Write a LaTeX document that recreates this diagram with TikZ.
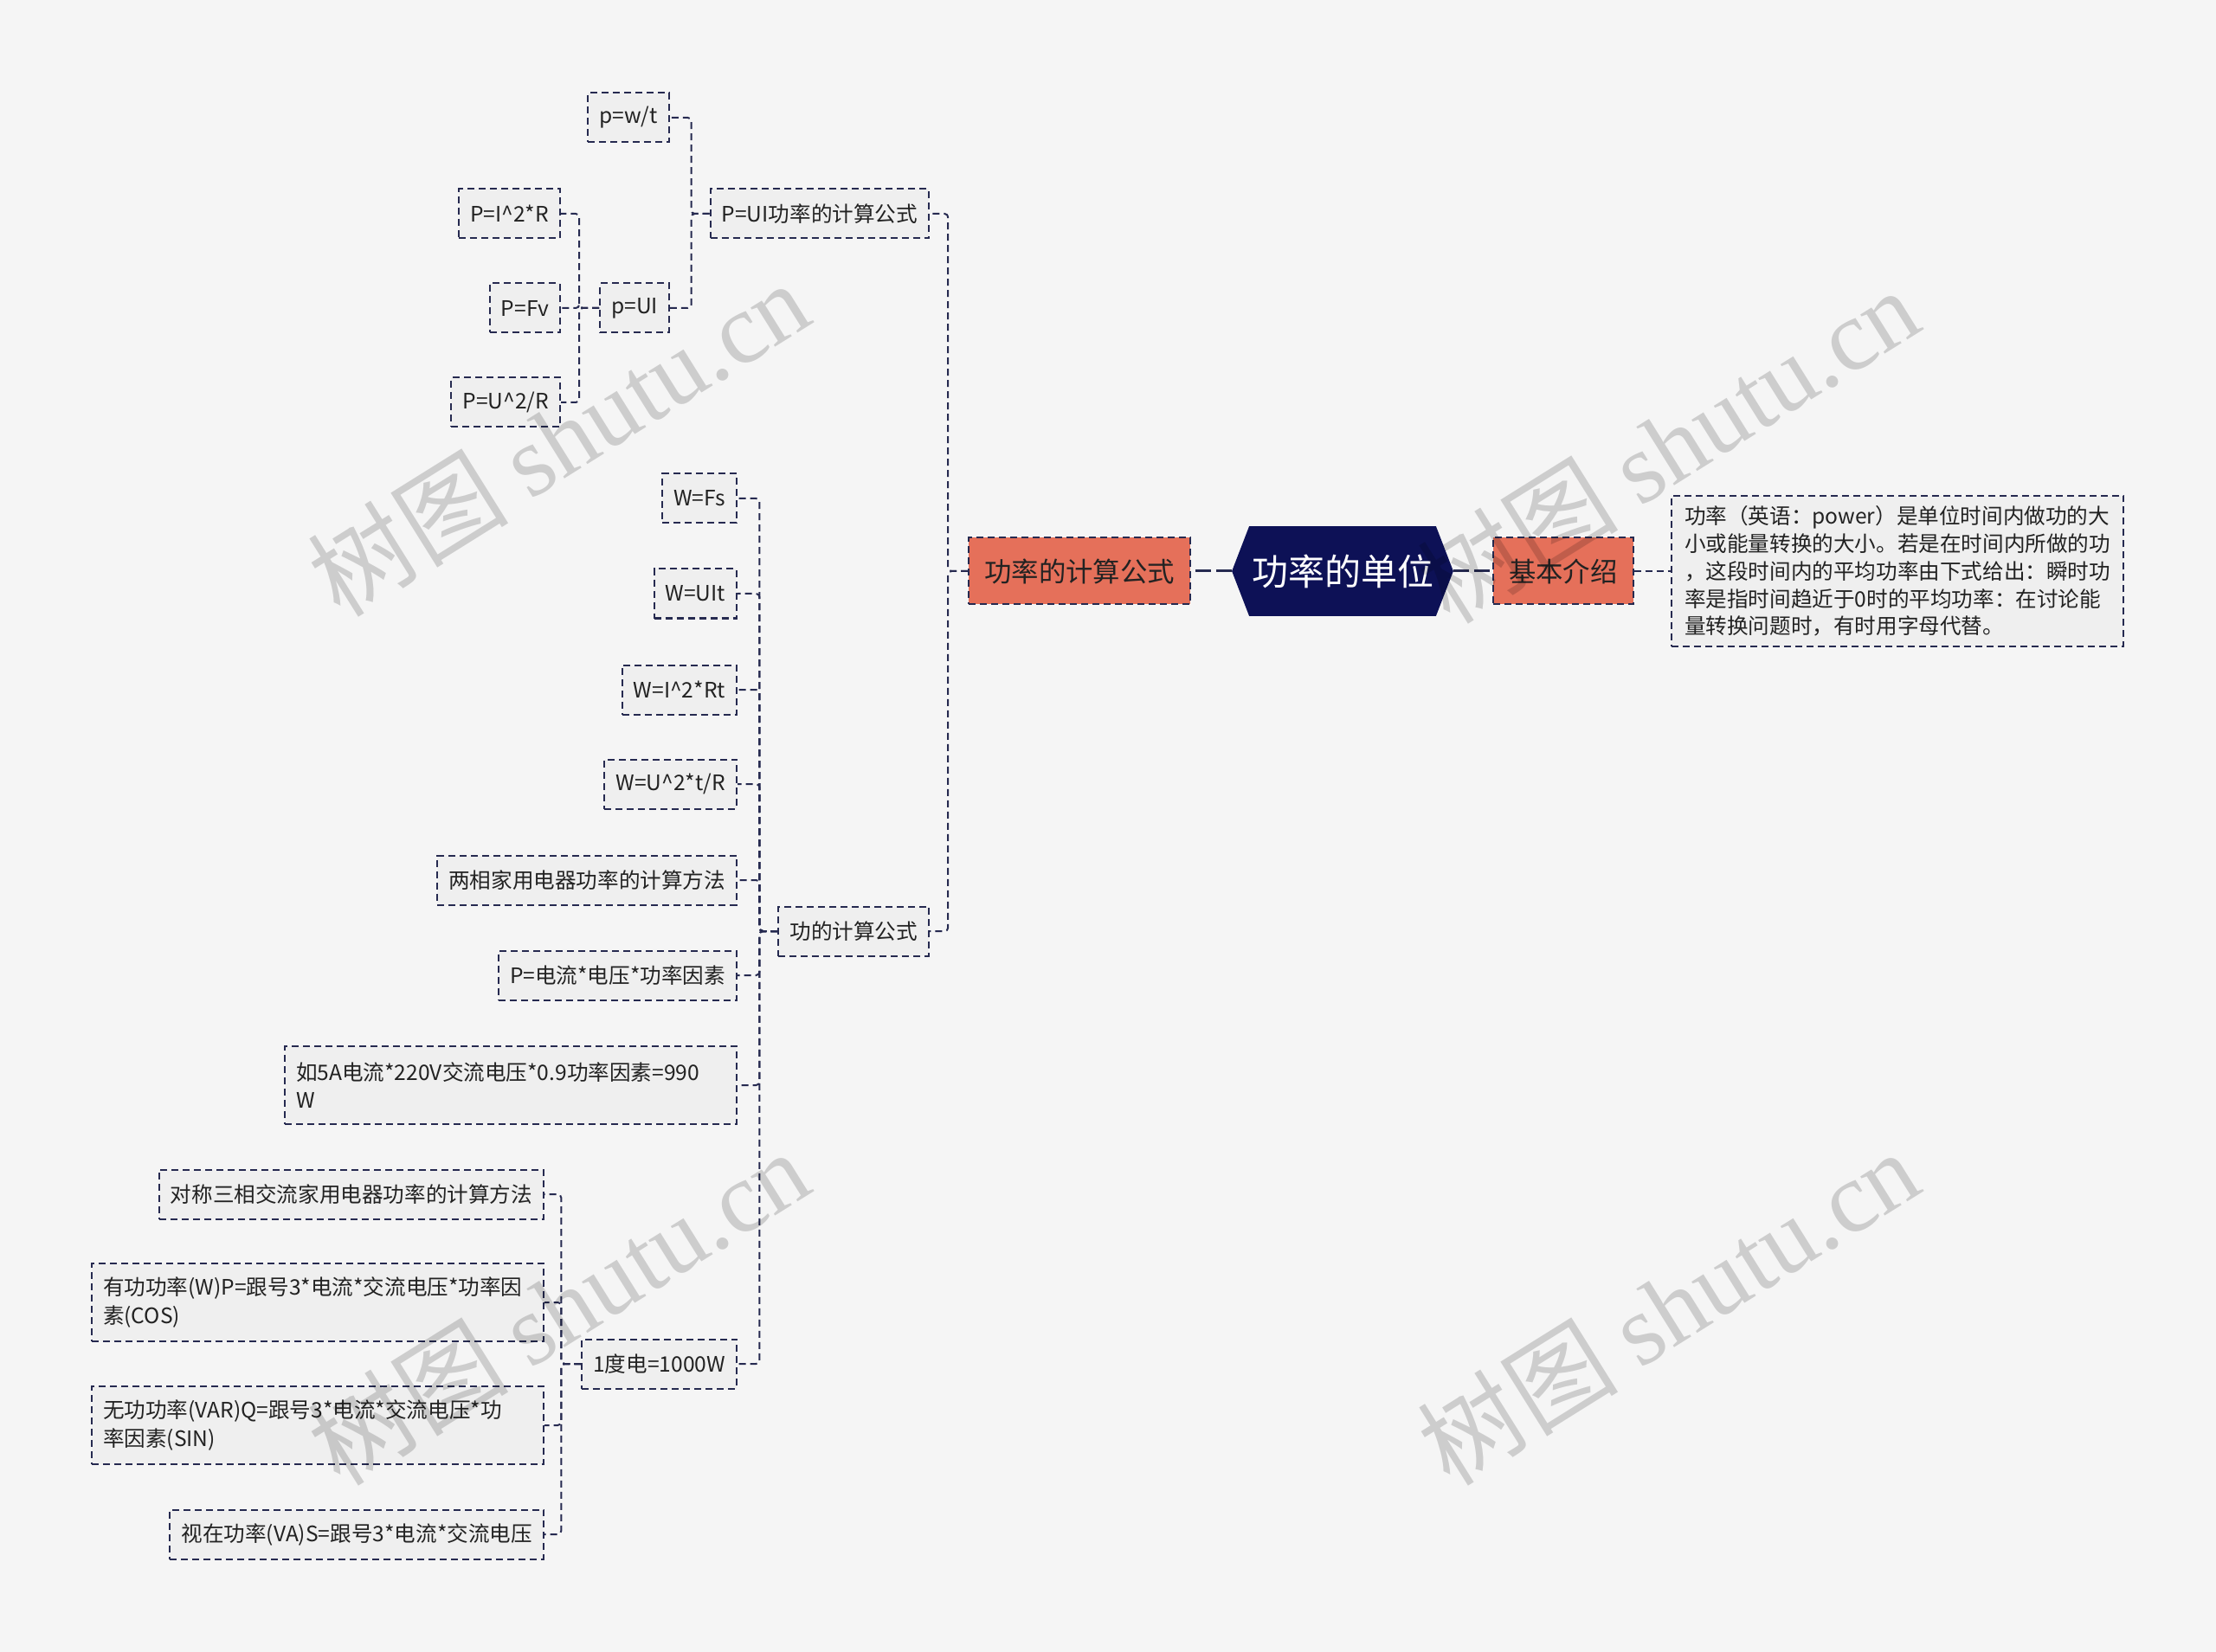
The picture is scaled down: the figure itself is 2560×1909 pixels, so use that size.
\documentclass[tikz,border=0pt]{standalone}
\usepackage{fontspec}
\setmainfont{Noto Sans CJK SC}
\newfontfamily\wmcjk{Noto Sans CJK SC}
\newfontfamily\wmlat{Liberation Serif}
\definecolor{bgc}{HTML}{F5F5F5}
\definecolor{linec}{HTML}{262A50}
\definecolor{leaff}{HTML}{EFEFEF}
\definecolor{orangec}{HTML}{E5705A}
\definecolor{rootc}{HTML}{0D1156}
\definecolor{textc}{HTML}{222222}
\pgfdeclarelayer{bglayer}
\pgfdeclarelayer{shapelayer}
\pgfsetlayers{bglayer,shapelayer,main}
\begin{document}
\begin{tikzpicture}[x=0.5pt,y=-0.5pt,
  leaf/.style={draw=linec, line width=1pt, dash pattern=on 4pt off 2.5pt, fill=leaff,
    font=\fontsize{12.3pt}{16.3pt}\selectfont, inner xsep=6.5pt, inner ysep=2pt,
    minimum height=28.5pt, anchor=east, text=textc},
  wide/.style={leaf, text width=248pt, align=left, minimum height=45pt},
  mainbox/.style={draw=linec, line width=1pt, dash pattern=on 4pt off 2.5pt, fill=orangec,
    font=\fontsize{15.7pt}{18pt}\selectfont, inner xsep=9pt, minimum height=38.5pt, text=textc},
  link/.style={draw=linec, line width=1pt, dash pattern=on 4pt off 2.5pt, rounded corners=2pt},
  rootlink/.style={draw=linec, line width=1.5pt, dash pattern=on 9pt off 3pt},
  wm/.style={rotate=32, text=black, text opacity=0.16, font=\fontsize{58pt}{58pt}\selectfont}
]
\begin{pgfonlayer}{bglayer}
\fill[bgc] (0,0) rectangle (2560,1909);
\end{pgfonlayer}
\useasboundingbox (0,0) rectangle (2560,1909);

% root
\node[minimum width=127.5pt, minimum height=51.5pt, inner sep=0pt, text=white,
  font=\fontsize{21pt}{24pt}\selectfont] (root) at (1551,660) {功率的单位};
\begin{pgfonlayer}{shapelayer}
\fill[rootc] (root.west) -- ([xshift=10pt]root.north west) -- ([xshift=-10pt]root.north east)
  -- (root.east) -- ([xshift=-10pt]root.south east) -- ([xshift=10pt]root.south west) -- cycle;
\end{pgfonlayer}

% main branches
\node[mainbox, anchor=east] (calc) at (1376,660) {功率的计算公式};
\node[mainbox, anchor=west] (intro) at (1724,660) {基本介绍};
\node[leaf, anchor=west, align=left, inner xsep=6.5pt, inner ysep=6pt, minimum width=261pt,
  font=\fontsize{12.3pt}{15.9pt}\selectfont] (desc) at (1930,660)
  {功率（英语：power）是单位时间内做功的大\\小或能量转换的大小。若是在时间内所做的功\\，这段时间内的平均功率由下式给出：瞬时功\\率是指时间趋近于0时的平均功率：在讨论能\\量转换问题时，有时用字母代替。};

% level 2
\node[leaf] (pui) at (1074,247) {P=UI功率的计算公式};
\node[leaf] (work) at (1074,1076) {功的计算公式};

% children of pui
\node[leaf] (pwt) at (774,136) {p=w/t};
\node[leaf] (pUI) at (774,356) {p=UI};
\node[leaf] (pi2r) at (648,247) {P=I\^{}2*R};
\node[leaf] (pfv) at (648,356) {P=Fv};
\node[leaf] (pu2r) at (648,465) {P=U\^{}2/R};

% children of work
\node[leaf] (wfs) at (852,576) {W=Fs};
\node[leaf] (wuit) at (852,686) {W=UIt};
\node[leaf] (wi2rt) at (852,797) {W=I\^{}2*Rt};
\node[leaf] (wu2tr) at (852,906) {W=U\^{}2*t/R};
\node[leaf] (two) at (852,1017) {两相家用电器功率的计算方法};
\node[leaf] (pei) at (852,1127) {P=电流*电压*功率因素};
\node[wide] (ex) at (852,1254) {如5A电流*220V交流电压*0.9功率因素=990\\W};
\node[leaf] (deg) at (852,1576) {1度电=1000W};

% children of deg
\node[leaf] (three) at (629,1380) {对称三相交流家用电器功率的计算方法};
\node[wide] (act) at (629,1505) {有功功率(W)P=跟号3*电流*交流电压*功率因\\素(COS)};
\node[wide] (react) at (629,1647) {无功功率(VAR)Q=跟号3*电流*交流电压*功\\率因素(SIN)};
\node[leaf] (app) at (629,1773) {视在功率(VA)S=跟号3*电流*交流电压};

% connectors
\draw[rootlink] (root.west) -- (calc.east);
\draw[rootlink] (root.east) -- (intro.west);
\draw[link] (intro.east) -- (desc.west);

\foreach \c in {pui,work} \draw[link] (calc.west) -- ++(-23,0) |- (\c.east);
\foreach \c in {pwt,pUI} \draw[link] (pui.west) -- ++(-21,0) |- (\c.east);
\foreach \c in {pi2r,pfv,pu2r} \draw[link] (pUI.west) -- ++(-23,0) |- (\c.east);
\foreach \c in {wfs,wuit,wi2rt,wu2tr,two,pei,ex,deg} \draw[link] (work.west) -- ++(-21,0) |- (\c.east);
\foreach \c in {three,act,react,app} \draw[link] (deg.west) -- ++(-23,0) |- (\c.east);

% watermarks
\node[wm] (wm1) at (645,506) {{\wmcjk 树图} {\wmlat shutu.cn}};
\node[wm] (wm2) at (1927,514) {{\wmcjk 树图} {\wmlat shutu.cn}};
\node[wm] (wm3) at (645,1510) {{\wmcjk 树图} {\wmlat shutu.cn}};
\node[wm] (wm4) at (1927,1510) {{\wmcjk 树图} {\wmlat shutu.cn}};
\end{tikzpicture}
\end{document}
